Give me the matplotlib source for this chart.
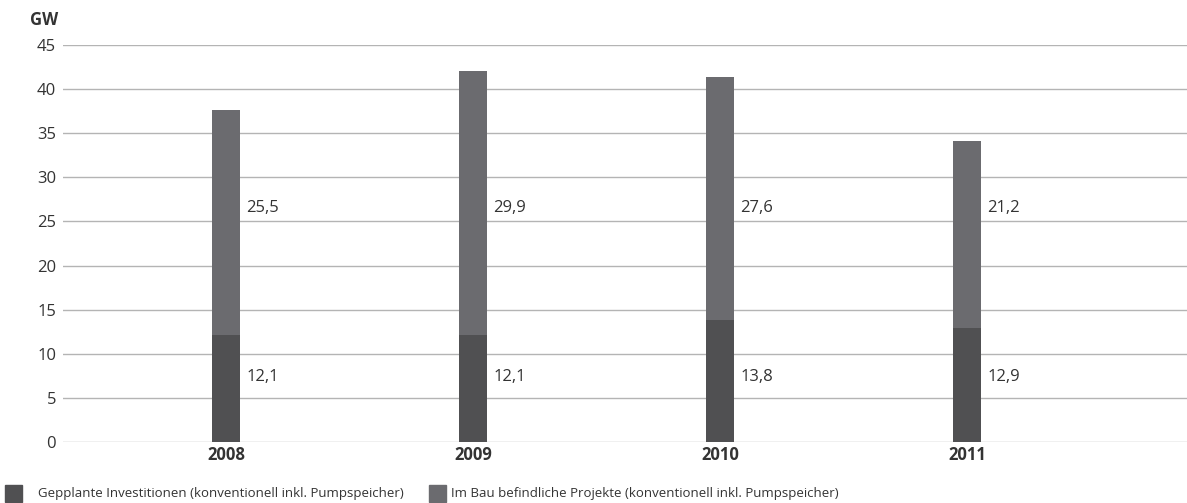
import numpy as np
import matplotlib.pyplot as plt

plt.rcParams['font.family'] = ['Open Sans', 'DejaVu Sans']

# data
years = ['2008', '2009', '2010', '2011']
geplant = [12.1, 12.1, 13.8, 12.9]
im_bau = [25.5, 29.9, 27.6, 21.2]
geplant_labels = ['12,1', '12,1', '13,8', '12,9']
im_bau_labels = ['25,5', '29,9', '27,6', '21,2']
yticks = [0, 5, 10, 15, 20, 25, 30, 35, 40, 45]

c_bottom = '#505052'
c_top = '#6b6b6f'
txt = '#333333'

fig = plt.figure(figsize=(11.87, 5.03), dpi=100)
ax = fig.add_axes([63/1187, 1 - 442/503, 1 - 63/1187, (442 - 45)/503])

x = np.arange(len(years))
w = 0.115
ax.bar(x, geplant, width=w, color=c_bottom, zorder=3)
ax.bar(x, im_bau, width=w, bottom=geplant, color=c_top, zorder=3)

# value labels sit at fixed heights next to each bar
for i in range(len(years)):
    ax.text(x[i] + w/2 + 0.025, 7.4, geplant_labels[i], va='center', ha='left',
            fontsize=12, color=txt)
    ax.text(x[i] + w/2 + 0.025, 26.5, im_bau_labels[i], va='center', ha='left',
            fontsize=12, color=txt)

ax.set_xlim(-0.66, 3.89)
ax.set_ylim(0, 45)
ax.set_yticks(yticks)
ax.set_yticklabels([str(t) for t in yticks], fontsize=12, color=txt)
ax.set_xticks(x)
ax.set_xticklabels(years, fontsize=12, fontweight='bold', color=txt)
ax.tick_params(length=0)
ax.tick_params(axis='y', pad=5)
ax.tick_params(axis='x', pad=3)
for s in ax.spines.values():
    s.set_visible(False)
ax.yaxis.grid(True, color='#b4b4b4', linewidth=1, zorder=0)
ax.set_axisbelow(True)

fig.text(30/1187, 1 - 20/503, 'GW', fontsize=12, fontweight='bold', color=txt,
         va='center', ha='left')

# legend
fig.patches.append(plt.Rectangle((5/1187, 1 - 502/503), 17/1187, 17/503,
                                 transform=fig.transFigure, color=c_bottom))
fig.text(38/1187, 1 - 493/503, 'Gepplante Investitionen (konventionell inkl. Pumpspeicher)',
         fontsize=9.5, color=txt, va='center', ha='left')
fig.patches.append(plt.Rectangle((429/1187, 1 - 502/503), 17/1187, 17/503,
                                 transform=fig.transFigure, color=c_top))
fig.text(451/1187, 1 - 493/503, 'Im Bau befindliche Projekte (konventionell inkl. Pumpspeicher)',
         fontsize=9.5, color=txt, va='center', ha='left')

fig.savefig('out.png', dpi=100)
